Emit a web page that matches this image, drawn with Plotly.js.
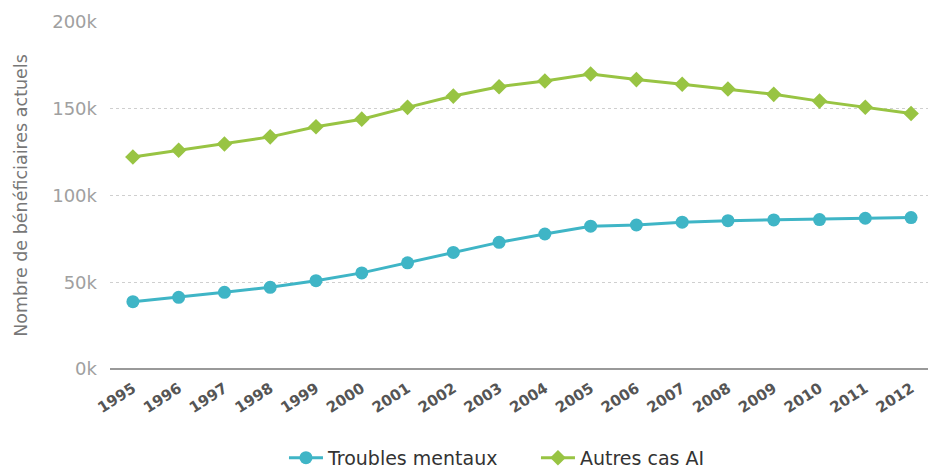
<!DOCTYPE html>
<html>
<head>
<meta charset="utf-8">
<script src="https://cdn.plot.ly/plotly-3.0.1.min.js"></script>
<style>html,body{margin:0;padding:0;background:#fff;}#chart{width:928px;height:472px;}</style>
</head>
<body>
<div id="chart"></div>
<script>
const years = [1995,1996,1997,1998,1999,2000,2001,2002,2003,2004,2005,2006,2007,2008,2009,2010,2011,2012];
const yearLabels = years.map(String);
const troublesMentaux = [38800,41300,44200,47100,50900,55400,61200,67200,73000,77800,82300,83000,84600,85500,85900,86100,86900,87300];
const autresCasAI = [122200,126100,129700,133800,139600,144000,150800,157300,162700,166000,170000,166800,164100,161400,158300,154400,150900,147300];
const yTickVals = [0,50000,100000,150000,200000];
const yTickText = ['0k','50k','100k','150k','200k'];
const seriesNames = ['Troubles mentaux','Autres cas AI'];

const traces = [
  {x: years, y: troublesMentaux, name: seriesNames[0], type: 'scatter', mode: 'lines+markers',
   line: {color: '#3fb5c6', width: 3}, marker: {color: '#3fb5c6', size: 13, symbol: 'circle'}},
  {x: years, y: autresCasAI, name: seriesNames[1], type: 'scatter', mode: 'lines+markers',
   line: {color: '#98c443', width: 3}, marker: {color: '#98c443', size: 12, symbol: 'diamond'}}
];

const layout = {
  width: 928, height: 472,
  margin: {l: 110, r: 0, t: 22, b: 103},
  paper_bgcolor: '#fff', plot_bgcolor: '#fff',
  showlegend: true,
  legend: {orientation: 'h', xref: 'container', yref: 'container', x: 0.306, xanchor: 'left', y: 0.03, yanchor: 'middle',
           bgcolor: 'rgba(0,0,0,0)', borderwidth: 0, entrywidth: 203, entrywidthmode: 'pixels',
           font: {family: 'DejaVu Sans, Verdana, sans-serif', size: 19, color: '#333'}, itemwidth: 34, tracegroupgap: 0},
  xaxis: {range: [1994.5, 2012.37], tickvals: years, ticktext: yearLabels, tickangle: -33,
          showgrid: false, zeroline: false, showline: false, ticks: '', ticklabelstandoff: 7,
          tickfont: {family: 'DejaVu Sans, Verdana, sans-serif', size: 15, color: '#555', weight: 'bold'}},
  yaxis: {range: [0, 200000], tickvals: yTickVals, ticktext: yTickText,
          showgrid: true, gridcolor: '#cfcfcf', griddash: '3px,3px', gridwidth: 1,
          zeroline: true, zerolinecolor: '#999', zerolinewidth: 2,
          ticks: '', ticklabelstandoff: 12,
          tickfont: {family: 'DejaVu Sans, Verdana, sans-serif', size: 18, color: '#a0a0a0'},
          title: {text: 'Nombre de bénéficiaires actuels', standoff: 20,
                  font: {family: 'DejaVu Sans, Verdana, sans-serif', size: 17.5, color: '#777'}}}
};

Plotly.newPlot('chart', traces, layout, {displayModeBar: false, staticPlot: true});
</script>
</body>
</html>
